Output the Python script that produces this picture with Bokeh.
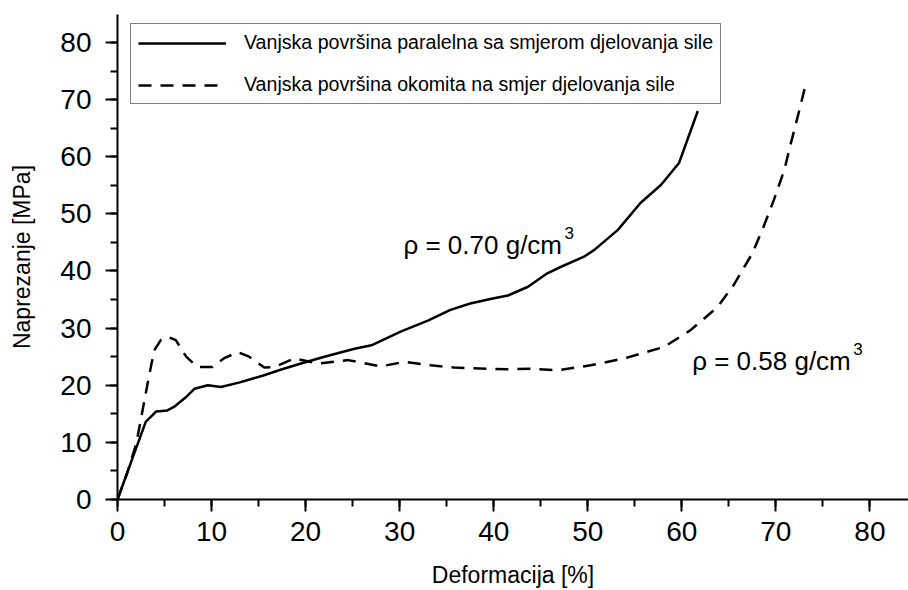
from bokeh.plotting import figure
from bokeh.models import Range1d, SingleIntervalTicker, Legend, LegendItem, Label
from bokeh.embed import file_html
from bokeh.resources import INLINE

# Data
strain_par = [0, 1.5, 3.0, 4.1, 5.3, 6.0, 7.2, 8.2, 9.6, 11.0, 13.0, 15.5, 17.5, 19.5, 22.0,
              25.2, 27.0, 30.1, 33.0, 35.4, 37.5, 39.9, 41.5, 43.6, 45.7, 47.1, 49.6, 50.7,
              53.2, 55.6, 57.8, 59.7, 61.7]
stress_par = [0, 6.8, 13.6, 15.4, 15.6, 16.2, 17.8, 19.4, 20.0, 19.7, 20.5, 21.7, 22.8, 23.8, 25.0,
              26.4, 27.0, 29.4, 31.3, 33.2, 34.3, 35.2, 35.7, 37.2, 39.6, 40.7, 42.5, 43.7,
              47.2, 51.9, 55.1, 58.9, 68.0]

strain_perp = [0, 1.0, 2.0, 3.2, 3.9, 4.6, 5.3, 6.2, 7.3, 8.5, 10.1, 11.3, 12.8, 14.0, 15.6, 16.7,
               18.8, 21.3, 24.5, 28.0, 30.5, 33.3, 35.8, 39.3, 41.5, 44.0, 46.8, 50.3, 53.9, 58.1,
               60.9, 63.8, 65.5, 67.5, 68.7, 69.8, 70.9, 71.6, 72.5, 73.1]
stress_perp = [0, 4.5, 9.8, 20.3, 26.1, 27.9, 28.5, 27.9, 25.0, 23.2, 23.2, 24.7, 25.8, 25.0, 23.1, 23.2,
               24.7, 23.8, 24.4, 23.3, 24.1, 23.5, 23.1, 22.9, 22.8, 22.9, 22.6, 23.5, 24.7, 26.7,
               29.6, 33.7, 37.5, 43.1, 47.8, 52.5, 57.7, 62.4, 68.2, 72.2]

legend_labels = ["Vanjska površina paralelna sa smjerom djelovanja sile",
                 "Vanjska površina okomita na smjer djelovanja sile"]
annotations = [("ρ = 0.70 g/cm", 30.4, 44.6), ("ρ = 0.58 g/cm", 61.1, 24.3)]
x_title = "Deformacija [%]"
y_title = "Naprezanje [MPa]"

FONT = "Liberation Sans"

p = figure(width=908, height=590, x_range=Range1d(0, 84.1), y_range=Range1d(0, 84.9),
           output_backend="svg", toolbar_location=None,
           min_border_left=117, min_border_right=0, min_border_top=14, min_border_bottom=91)
p.xgrid.visible = False
p.ygrid.visible = False
p.outline_line_color = None
p.background_fill_color = "white"
p.border_fill_color = "white"

for ax, title in ((p.xaxis[0], x_title), (p.yaxis[0], y_title)):
    ax.ticker = SingleIntervalTicker(interval=10, num_minor_ticks=2)
    ax.axis_label = title
    ax.axis_label_text_font = FONT
    ax.axis_label_text_font_size = "23px"
    ax.axis_label_text_font_style = "normal"
    ax.axis_label_text_color = "black"
    ax.major_label_text_font = FONT
    ax.major_label_text_font_size = "28px"
    ax.major_label_text_color = "black"
    ax.axis_line_color = "black"
    ax.axis_line_width = 2
    ax.major_tick_line_color = "black"
    ax.major_tick_line_width = 2
    ax.minor_tick_line_color = "black"
    ax.minor_tick_line_width = 2
    ax.major_tick_in = 0
    ax.major_tick_out = 12
    ax.minor_tick_in = 0
    ax.minor_tick_out = 7

p.xaxis[0].major_label_standoff = 10
p.xaxis[0].axis_label_standoff = 18
p.yaxis[0].major_label_standoff = 14
p.yaxis[0].axis_label_standoff = 22

r1 = p.line(strain_par, stress_par, line_color="black", line_width=2.5)
r2 = p.line(strain_perp, stress_perp, line_color="black", line_width=2.5, line_dash="13 9")

for txt, x, y in annotations:
    p.add_layout(Label(x=x, y=y, text=txt, text_font=FONT, text_font_size="26px",
                       text_color="black", text_baseline="alphabetic"))
    p.add_layout(Label(x=x, y=y, x_offset=161, y_offset=12, text="3", text_font=FONT,
                       text_font_size="17px", text_color="black", text_baseline="alphabetic"))

legend = Legend(items=[LegendItem(label=legend_labels[0], renderers=[r1]),
                       LegendItem(label=legend_labels[1], renderers=[r2])],
                location=(13, 395), padding=7, spacing=19, margin=0,
                glyph_width=88, glyph_height=20, label_height=20, label_standoff=18,
                label_text_font=FONT, label_text_font_size="19.6px", label_text_color="black",
                border_line_color="black", border_line_width=1.5,
                background_fill_color="white", background_fill_alpha=1.0)
p.add_layout(legend)

open("out.html", "w").write(file_html(p, INLINE))
